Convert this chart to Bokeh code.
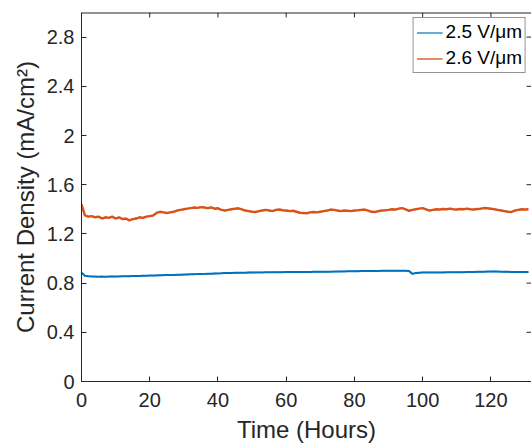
from bokeh.plotting import figure
from bokeh.models import Range1d, FixedTicker, Legend, LegendItem, Span
from bokeh.embed import file_html
from bokeh.resources import INLINE

# ---- data ----
time_h = list(range(0, 132))

j_25 = [0.885, 0.860, 0.856, 0.854, 0.853, 0.852, 0.853, 0.852, 0.853, 0.854,
        0.853, 0.854, 0.855, 0.855, 0.856, 0.857, 0.857, 0.858, 0.859, 0.860,
        0.861, 0.861, 0.862, 0.863, 0.864, 0.865, 0.866, 0.866, 0.867, 0.868,
        0.869, 0.870, 0.871, 0.872, 0.873, 0.874, 0.875, 0.876, 0.877, 0.878,
        0.879, 0.880, 0.882, 0.883, 0.883, 0.884, 0.884, 0.885, 0.885, 0.886,
        0.886, 0.887, 0.887, 0.887, 0.888, 0.888, 0.888, 0.889, 0.889, 0.889,
        0.890, 0.890, 0.890, 0.890, 0.891, 0.891, 0.891, 0.891, 0.892, 0.892,
        0.892, 0.892, 0.893, 0.893, 0.894, 0.894, 0.895, 0.895, 0.896, 0.896,
        0.897, 0.897, 0.898, 0.898, 0.899, 0.899, 0.899, 0.899, 0.900, 0.900,
        0.900, 0.900, 0.900, 0.900, 0.900, 0.900, 0.899, 0.875, 0.882, 0.885,
        0.887, 0.887, 0.887, 0.887, 0.887, 0.887, 0.887, 0.888, 0.888, 0.888,
        0.888, 0.889, 0.889, 0.890, 0.891, 0.891, 0.892, 0.892, 0.893, 0.894,
        0.894, 0.895, 0.894, 0.893, 0.892, 0.892, 0.891, 0.891, 0.890, 0.890,
        0.890, 0.890]

j_26 = [1.440, 1.350, 1.340, 1.345, 1.335, 1.340, 1.325, 1.335, 1.330, 1.340,
        1.325, 1.335, 1.320, 1.325, 1.310, 1.320, 1.325, 1.335, 1.330, 1.340,
        1.345, 1.350, 1.370, 1.380, 1.375, 1.370, 1.375, 1.380, 1.390, 1.395,
        1.400, 1.405, 1.410, 1.415, 1.412, 1.418, 1.415, 1.410, 1.415, 1.405,
        1.408, 1.395, 1.390, 1.395, 1.400, 1.405, 1.408, 1.400, 1.390, 1.385,
        1.380, 1.378, 1.385, 1.390, 1.395, 1.390, 1.385, 1.395, 1.398, 1.392,
        1.390, 1.385, 1.388, 1.380, 1.372, 1.370, 1.368, 1.375, 1.378, 1.375,
        1.380, 1.385, 1.390, 1.398, 1.395, 1.390, 1.385, 1.390, 1.388, 1.385,
        1.390, 1.392, 1.395, 1.398, 1.390, 1.380, 1.378, 1.385, 1.390, 1.392,
        1.395, 1.400, 1.398, 1.405, 1.410, 1.400, 1.388, 1.395, 1.400, 1.405,
        1.410, 1.400, 1.390, 1.395, 1.400, 1.398, 1.402, 1.400, 1.405, 1.400,
        1.398, 1.402, 1.400, 1.405, 1.400, 1.398, 1.402, 1.405, 1.410, 1.408,
        1.405, 1.400, 1.395, 1.390, 1.385, 1.380, 1.378, 1.390, 1.395, 1.400,
        1.398, 1.400]

series_labels = ["2.5 V/\u03bcm", "2.6 V/\u03bcm"]
series_colors = ["#0072BD", "#D95319"]
x_ticks = [0, 20, 40, 60, 80, 100, 120]
y_ticks = [0, 0.4, 0.8, 1.2, 1.6, 2.0, 2.4, 2.8]
y_tick_labels = {0: "0", 0.4: "0.4", 0.8: "0.8", 1.2: "1.2", 1.6: "1.6",
                 2.0: "2", 2.4: "2.4", 2.8: "2.8"}
x_end = 131.9
y_end = 3.0

FONT = "Liberation Sans"
TXT = "#262626"

p = figure(width=531, height=445, output_backend="svg", toolbar_location=None,
           x_range=Range1d(0, x_end), y_range=Range1d(0, y_end),
           min_border_left=81, min_border_right=0, min_border_top=12,
           min_border_bottom=63)
p.grid.visible = False
p.outline_line_color = None
p.background_fill_color = "white"
p.border_fill_color = "white"

# thin copies (hidden under the main lines) give the legend its thin samples
l1 = p.line(time_h, j_25, line_color=series_colors[0], line_width=1.3, line_alpha=0.8)
l2 = p.line(time_h, j_26, line_color=series_colors[1], line_width=1.3, line_alpha=0.9)
r1 = p.line(time_h, j_25, line_color=series_colors[0], line_width=2)
r2 = p.line(time_h, j_26, line_color=series_colors[1], line_width=2.4)

for ax in (p.xaxis[0], p.yaxis[0]):
    ax.major_tick_in = 5
    ax.major_tick_out = 0
    ax.minor_tick_in = 0
    ax.minor_tick_out = 0
    ax.axis_line_color = TXT
    ax.major_tick_line_color = TXT
    ax.major_label_text_font = FONT
    ax.major_label_text_font_size = "20px"
    ax.major_label_text_color = TXT
    ax.axis_label_text_font = FONT
    ax.axis_label_text_font_size = "24px"
    ax.axis_label_text_font_style = "normal"
    ax.axis_label_text_color = TXT

p.xaxis[0].ticker = FixedTicker(ticks=x_ticks)
p.yaxis[0].ticker = FixedTicker(ticks=y_ticks)
p.yaxis[0].major_label_overrides = y_tick_labels
p.xaxis[0].axis_label = "Time (Hours)"
p.yaxis[0].axis_label = "Current Density (mA/cm\u00b2)"
p.xaxis[0].major_label_standoff = 11
p.xaxis[0].axis_label_standoff = 6
p.yaxis[0].major_label_standoff = 7
p.yaxis[0].axis_label_standoff = 5

# top box edge and inward ticks on top / right (MATLAB "box on")
p.add_layout(Span(location=y_end, dimension="width", line_color=TXT, line_width=2))
n_x = len(x_ticks)
p.segment(x0=x_ticks, y0=[y_end] * n_x, x1=x_ticks, y1=[y_end - 0.04] * n_x,
          line_color=TXT, line_width=1)
n_y = len(y_ticks)
p.segment(x0=[x_end] * n_y, y0=y_ticks, x1=[x_end - 1.45] * n_y, y1=y_ticks,
          line_color=TXT, line_width=1)

legend = Legend(items=[LegendItem(label=series_labels[0], renderers=[l1]),
                       LegendItem(label=series_labels[1], renderers=[l2])],
                location="top_right")
legend.margin = 5
legend.padding = 3
legend.spacing = 4
legend.glyph_width = 26
legend.glyph_height = 21
legend.label_height = 21
legend.label_standoff = 3
legend.label_text_font = FONT
legend.label_text_font_size = "19px"
legend.label_text_color = "#000000"
legend.border_line_color = TXT
legend.border_line_width = 1
legend.background_fill_color = "white"
legend.background_fill_alpha = 1
p.add_layout(legend)

open("out.html", "w").write(file_html(p, INLINE))
